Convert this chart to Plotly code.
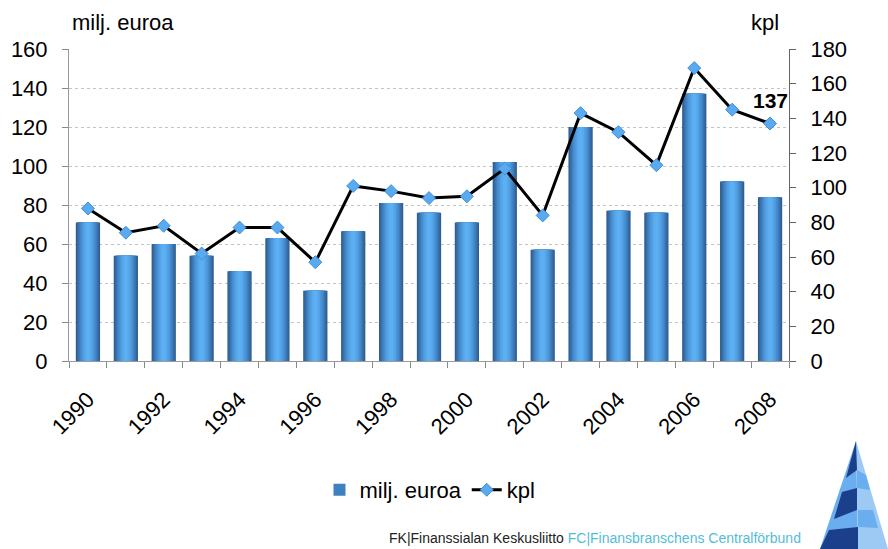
import plotly.graph_objects as go

years = list(range(1990, 2009))
milj_euroa = [71, 54, 60, 54, 46, 63, 36, 66.5, 81, 76, 71, 102, 57, 120, 77, 76, 137, 92, 84]
kpl = [88, 74, 78, 62, 77, 77, 57, 101, 98, 94, 95, 111, 84, 143, 132, 113, 169, 145, 137]
tick_years = list(range(1990, 2009, 2))

W, H = 888, 549
L, R, T, B = 69, 99, 49, 188
pw, ph = W - L - R, H - T - B

def px(x):
    return (x - L) / pw

def py(y):
    return (H - B - y) / ph

fig = go.Figure()

# gradient-like bars: overlay of layers, outer dark -> inner light
layers = [
    (0.64, "#2f5f8e"),
    (0.58, "#3569a0"),
    (0.52, "#3a74b0"),
    (0.46, "#4080c0"),
    (0.40, "#468bcd"),
    (0.33, "#4c96d9"),
    (0.26, "#52a0e3"),
    (0.18, "#57a9ec"),
    (0.10, "#5cb0f2"),
]
for i, (w, c) in enumerate(layers):
    fig.add_trace(go.Bar(
        x=years, y=milj_euroa, width=w, name="milj. euroa",
        marker=dict(color=c, line=dict(width=0)),
        showlegend=(i == 3), yaxis="y", hoverinfo="skip" if i else None,
    ))

fig.add_trace(go.Scatter(
    x=years, y=kpl, name="kpl", yaxis="y2", mode="lines+markers",
    line=dict(color="black", width=3),
    marker=dict(symbol="diamond", size=10, color="#5aaaf0",
                line=dict(color="#3f8fd6", width=1)),
))

fig.add_annotation(x=years[-1], y=kpl[-1], yref="y2", text="<b>137</b>",
                   showarrow=False, xanchor="right", yanchor="bottom",
                   xshift=20, yshift=10, font=dict(size=21, color="black"))

font_family = "Liberation Sans, Arial, sans-serif"

fig.update_layout(
    width=W, height=H,
    margin=dict(l=L, r=R, t=T, b=B, pad=0, autoexpand=False),
    paper_bgcolor="white", plot_bgcolor="white",
    barmode="overlay",
    font=dict(family=font_family, size=22, color="black"),
    xaxis=dict(
        range=[1989.5, 2008.5], tickmode="array", tickvals=tick_years,
        ticktext=[str(y) for y in tick_years], tickangle=-45,
        ticks="", showgrid=False, showline=True, linecolor="#999999",
        linewidth=1, zeroline=False, tickfont=dict(size=22),
        ticklabelstandoff=16,
        minor=dict(tickmode="linear", tick0=1989.5, dtick=1, ticks="outside",
                   ticklen=6, tickcolor="#888888", showgrid=False),
    ),
    yaxis=dict(
        range=[0, 160], dtick=20, showgrid=True, gridcolor="#c4c4c4",
        griddash="dot", gridwidth=1, ticks="outside", ticklen=6,
        tickcolor="#888888", showline=True, linecolor="#999999",
        zeroline=False, tickfont=dict(size=22), ticklabelstandoff=10,
    ),
    yaxis2=dict(
        range=[0, 180], dtick=20, overlaying="y", side="right",
        showgrid=False, ticks="outside", ticklen=6, tickcolor="#666666",
        showline=True, linecolor="#666666", zeroline=False,
        tickfont=dict(size=22), ticklabelstandoff=10,
    ),
    legend=dict(
        orientation="h", x=px(430), y=py(490), xanchor="center",
        yanchor="middle", font=dict(size=22), bgcolor="rgba(0,0,0,0)",
        itemwidth=30,
    ),
    showlegend=True,
)

fig.add_annotation(x=px(70), y=py(22), xref="paper", yref="paper",
                   text="milj. euroa", showarrow=False, xanchor="left",
                   yanchor="middle", font=dict(size=22))
fig.add_annotation(x=px(781), y=py(22), xref="paper", yref="paper",
                   text="kpl", showarrow=False, xanchor="right",
                   yanchor="middle", font=dict(size=22))

fig.add_annotation(
    x=px(803), y=py(538), xref="paper", yref="paper", showarrow=False,
    xanchor="right", yanchor="middle",
    text="FK|Finanssialan Keskusliitto <span style='color:#55bcd8'>FC|Finansbranschens Centralförbund</span>",
    font=dict(family="Liberation Sans Narrow, Arial Narrow, sans-serif", size=14, color="#222222"),
)

# logo (decoration): pyramid with stripes
def path(pts):
    return "M " + " L ".join(f"{px(x)},{py(y)}" for x, y in pts) + " Z"

dark, light, lighter = "#1c3f8c", "#6aaef0", "#9dcaf5"
apex = (856, 441)
logo_polys = [
    ([apex, (888, 549), (858, 549)], lighter),
    ([apex, (858, 549), (820, 549)], light),
    ([apex, (857, 470), (846, 478)], dark),
    ([(842, 492), (857, 488), (857, 510), (834, 519)], dark),
    ([(829, 530), (858, 527), (858, 549), (820, 549)], dark),
    ([(857, 470), (866, 475), (870, 490), (857, 488)], light),
    ([(858, 510), (873, 510), (878, 528), (858, 527)], light),
]
for pts, col in logo_polys:
    fig.add_shape(type="path", xref="paper", yref="paper", path=path(pts),
                  fillcolor=col, line=dict(width=0), layer="above")

fig.write_html("out.html", config={"displayModeBar": False},
               post_script="document.body.style.margin='0';document.body.style.overflow='hidden';")
